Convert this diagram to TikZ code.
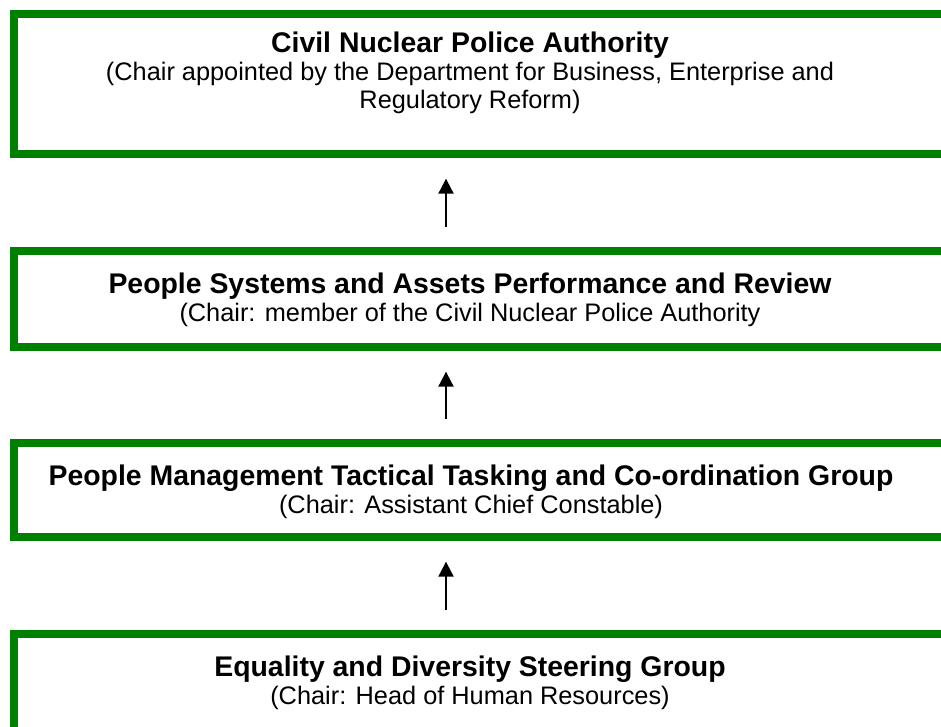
\documentclass[tikz,border=0pt]{standalone}
\usepackage{fontspec}
\setmainfont{Liberation Sans}
\usetikzlibrary{arrows.meta,fit}
\definecolor{boxgreen}{RGB}{0,128,0}
\newcommand{\paneltitle}[1]{{\fontsize{21.3}{21}\selectfont\bfseries #1}}
\tikzset{
  panel/.style={draw=boxgreen, line width=6pt, inner sep=0pt, fill=none},
  caption/.style={align=center, inner sep=0pt, font=\fontsize{19}{21}\selectfont},
  uparrow/.style={line width=1.5pt, -{Triangle[length=11.25pt,width=11.25pt]},
                  shorten <=15pt, shorten >=15.5pt}
}
\begin{document}
\begin{tikzpicture}[x=0.75pt,y=-0.75pt]
  \useasboundingbox (0,0) rectangle (941,727);
  \fill[white] (0,0) rectangle (941,727);

  % framed panels (their right edges run off the page)
  \node[panel, fit={(14,14) (980,154)}] (b1) {};
  \node[panel, fit={(14,251) (980,347)}] (b2) {};
  \node[panel, fit={(14,443) (980,537)}] (b3) {};
  \node[panel, fit={(14,634) (980,780)}] (b4) {};

  % panel texts
  \node[caption] (t1) at (470,73) {\paneltitle{Civil Nuclear Police Authority}\\
    (Chair appointed by the Department for Business, Enterprise and\\
    Regulatory Reform)};
  \node[caption] (t2) at (470,300) {\paneltitle{People Systems and Assets Performance and Review}\\
    (Chair: member of the Civil Nuclear Police Authority};
  \node[caption] (t3) at (471,492) {\paneltitle{People Management Tactical Tasking and Co-ordination Group}\\
    (Chair: Assistant Chief Constable)};
  \node[caption] (t4) at (470,683) {\paneltitle{Equality and Diversity Steering Group}\\
    (Chair: Head of Human Resources)};

  % reporting arrows
  \coordinate (ax) at (446,0);
  \draw[uparrow] (ax |- b2.north) -- (ax |- b1.south);
  \draw[uparrow] (ax |- b3.north) -- (ax |- b2.south);
  \draw[uparrow] (ax |- b4.north) -- (ax |- b3.south);
\end{tikzpicture}
\end{document}
